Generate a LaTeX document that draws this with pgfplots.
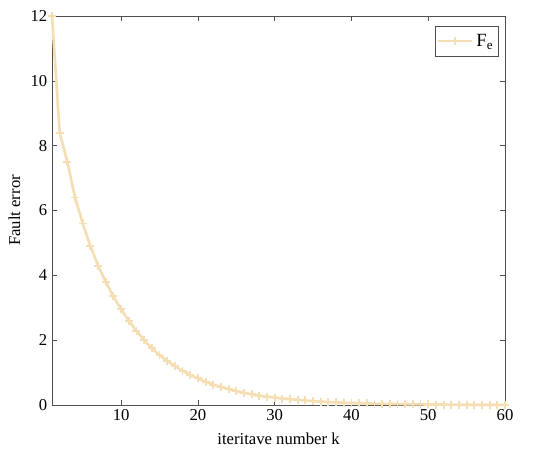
\documentclass[border=0pt]{standalone}
\usepackage{fontspec}
\setmainfont{Liberation Serif}
\usepackage{pgfplots}
\pgfplotsset{compat=1.18}
\definecolor{tan}{RGB}{245,222,179}
\definecolor{axgray}{RGB}{80,80,80}
\begin{document}
\begin{tikzpicture}
\begin{axis}[
  scale only axis,
  width=340pt, height=292pt,
  xmin=1, xmax=60, ymin=0, ymax=12,
  xtick={10,20,30,40,50,60},
  ytick={0,2,4,6,8,10,12},
  tick align=inside,
  axis line style={axgray},
  every tick/.style={axgray},
  major tick length=4pt,
  xlabel={iteritave number k},
  ylabel={Fault error},
  xlabel style={yshift=-2pt},
  ylabel style={yshift=1pt},
  /pgf/number format/assume math mode=true,
  tick label style={font=\fontsize{12.5}{14}\selectfont},
  label style={font=\fontsize{12.5}{14}\selectfont},
  legend style={at={(0.985,0.975)}, anchor=north east, draw=axgray, font=\fontsize{14}{16}\selectfont, inner xsep=1.5pt, inner ysep=4pt},
  legend image code/.code={\draw[mark repeat=2,mark phase=2] plot coordinates {(0cm,0cm) (0.45cm,0cm) (0.9cm,0cm)};},
  legend cell align=left,
  clip=false,
]
\addplot[tan, line width=2pt, mark=+, mark size=3pt, mark options={line width=1.4pt}] coordinates {
(1,12.0) (2,8.4) (3,7.5) (4,6.4) (5,5.6) (6,4.9) (7,4.3) (8,3.8) (9,3.35) (10,2.95)
(11,2.6) (12,2.28) (13,2.0) (14,1.75) (15,1.54) (16,1.36) (17,1.2) (18,1.05) (19,0.93) (20,0.82)
(21,0.72) (22,0.63) (23,0.56) (24,0.49) (25,0.43) (26,0.38) (27,0.33) (28,0.29) (29,0.26) (30,0.23)
(31,0.2) (32,0.18) (33,0.16) (34,0.14) (35,0.12) (36,0.105) (37,0.093) (38,0.082) (39,0.072) (40,0.063)
(41,0.055) (42,0.048) (43,0.042) (44,0.037) (45,0.033) (46,0.029) (47,0.025) (48,0.022) (49,0.019) (50,0.017)
(51,0.015) (52,0.013) (53,0.012) (54,0.01) (55,0.009) (56,0.008) (57,0.007) (58,0.006) (59,0.005) (60,0.005)
};
\addlegendentry{F\textsubscript{e}}
\path (rel axis cs:-0.1148,-0.136) rectangle (rel axis cs:1.0993,1.041);
\end{axis}
\end{tikzpicture}
\end{document}
